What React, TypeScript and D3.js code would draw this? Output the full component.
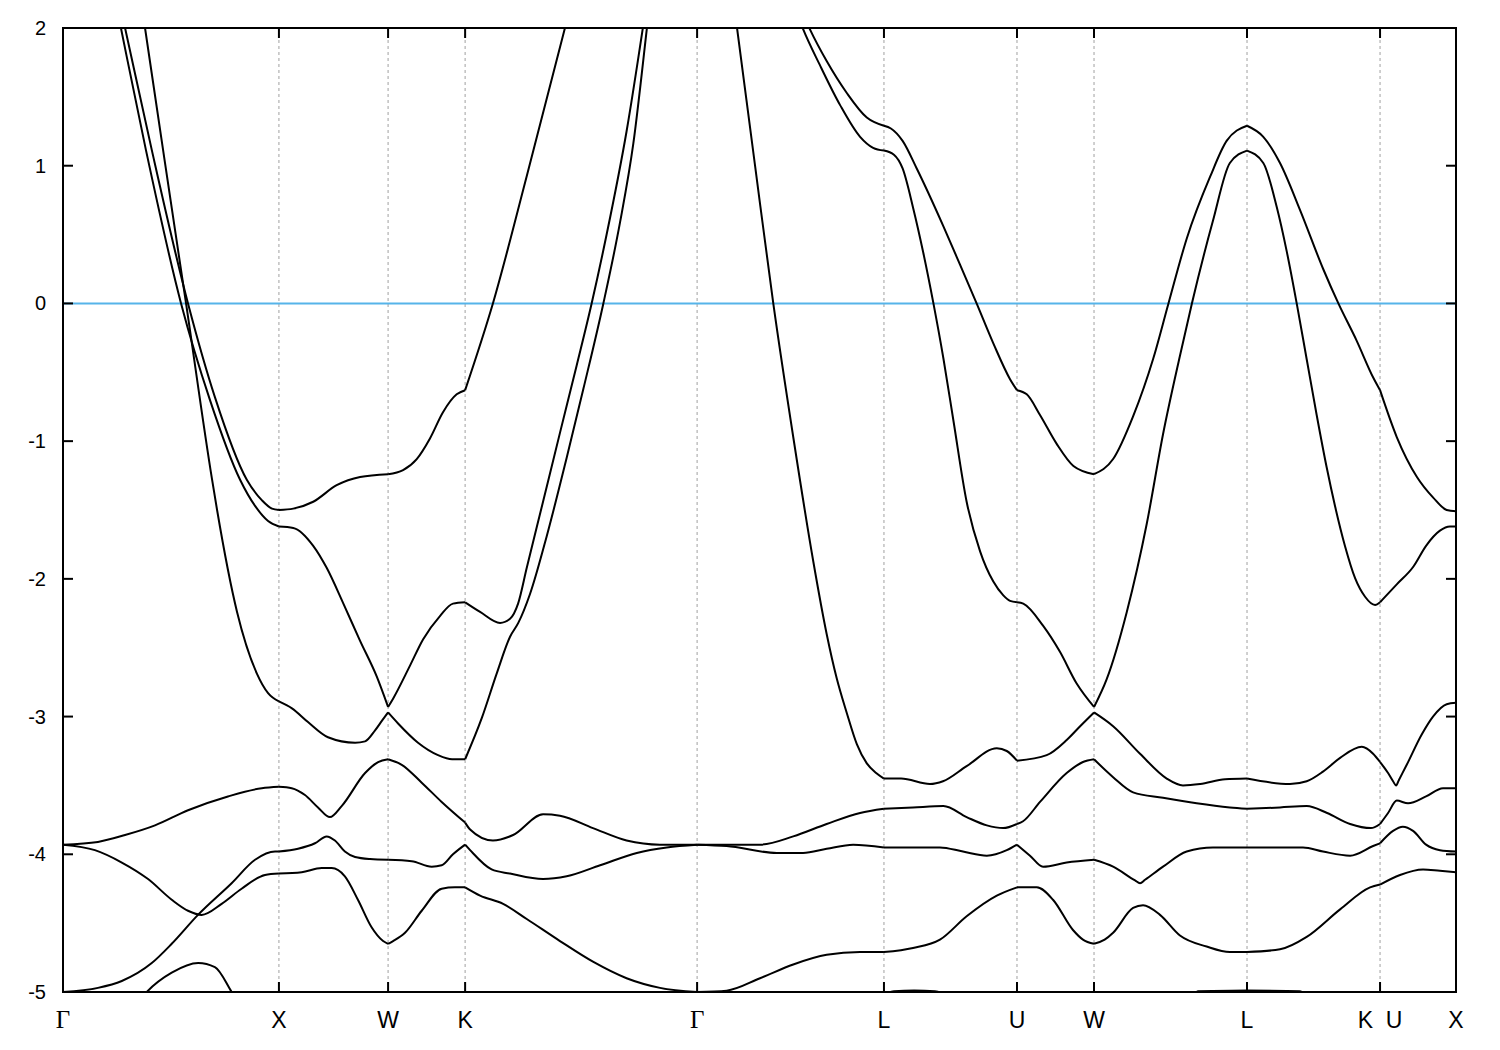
import React, { useMemo } from 'react';
import * as d3 from 'd3';

type Pt = [number, number]; // [path position k, energy in eV]

// High-symmetry points along the k path (same units as the band data)
const kTicks = [0, 0.995, 1.498, 1.853, 2.922, 3.783, 4.396, 4.751, 5.456, 6.069, 6.419];
const kLabels = ['Γ', 'X', 'W', 'K', 'Γ', 'L', 'U', 'W', 'L', 'K\u00a0\u00a0U', 'X'];
const energyTicks = [-5, -4, -3, -2, -1, 0, 1, 2];
const fermiLevel = 0;

// Bands, one array per visible curve
const bandSteep: Pt[] = [
  [0.332, 2.49], [0.378, 2.0], [0.47, 1.02], [0.567, 0.0], [0.687, -1.28], [0.71, -1.5], [0.802, -2.24],
  [0.894, -2.69], [0.945, -2.83], [0.995, -2.89],
  [1.055, -2.94], [1.129, -3.04], [1.221, -3.15], [1.346, -3.19], [1.392, -3.18], [1.438, -3.1], [1.47, -3.03], [1.498, -2.97],
  [1.544, -3.05], [1.636, -3.19], [1.728, -3.28], [1.793, -3.31], [1.853, -3.31],
  [1.93, -3.01], [1.998, -2.69], [2.06, -2.42], [2.098, -2.32], [2.152, -2.11], [2.229, -1.69], [2.321, -1.12],
  [2.398, -0.62], [2.49, 0.0], [2.567, 0.59], [2.628, 1.16], [2.69, 1.99], [2.723, 2.45],
];

const bandPairHigh: Pt[] = [
  [0.23, 2.4], [0.286, 2.0], [0.409, 1.115], [0.576, 0.0], [0.7, -0.68], [0.847, -1.28], [0.917, -1.43], [0.963, -1.49], [0.995, -1.5],
  [1.061, -1.49], [1.153, -1.44], [1.261, -1.32], [1.369, -1.26], [1.498, -1.24],
  [1.567, -1.21], [1.63, -1.13], [1.691, -0.98], [1.751, -0.79], [1.814, -0.66], [1.853, -0.63],
  [1.981, 0.0], [2.138, 0.93], [2.313, 2.0], [2.405, 2.57],
];

const bandPairLow: Pt[] = [
  [0.217, 2.39], [0.267, 2.0], [0.382, 1.115], [0.544, 0.0], [0.677, -0.7], [0.816, -1.28], [0.885, -1.47], [0.945, -1.58], [0.995, -1.62],
  [1.061, -1.63], [1.153, -1.76], [1.215, -1.92], [1.292, -2.18], [1.369, -2.45], [1.446, -2.71], [1.498, -2.93],
  [1.521, -2.87], [1.599, -2.63], [1.659, -2.44], [1.737, -2.27], [1.797, -2.18], [1.853, -2.17],
  [1.922, -2.24], [2.014, -2.32], [2.06, -2.29], [2.097, -2.18], [2.137, -1.92], [2.212, -1.44], [2.29, -0.94],
  [2.367, -0.45], [2.436, 0.0], [2.505, 0.5], [2.597, 1.25], [2.671, 1.99], [2.714, 2.45],
];

const bandDUpper: Pt[] = [
  [0, -3.93], [0.161, -3.91], [0.286, -3.86], [0.424, -3.79], [0.576, -3.68], [0.76, -3.58], [0.916, -3.52], [0.995, -3.51],
  [1.054, -3.52], [1.115, -3.57], [1.175, -3.66], [1.23, -3.73], [1.284, -3.65], [1.392, -3.41], [1.452, -3.33], [1.498, -3.31],
  [1.561, -3.35], [1.653, -3.48], [1.745, -3.62], [1.853, -3.77],
  [1.876, -3.82], [1.981, -3.9], [2.074, -3.86], [2.212, -3.71], [2.29, -3.72], [2.442, -3.81], [2.597, -3.9], [2.751, -3.93], [2.922, -3.93],
  [3.212, -3.93], [3.365, -3.87], [3.519, -3.78], [3.673, -3.7], [3.783, -3.67],
  [3.917, -3.66], [4.057, -3.65], [4.164, -3.73], [4.257, -3.79], [4.332, -3.81], [4.396, -3.78],
  [4.424, -3.76], [4.502, -3.62], [4.625, -3.41], [4.7, -3.33], [4.751, -3.31],
  [4.839, -3.44], [4.931, -3.55], [5.069, -3.59], [5.224, -3.63], [5.377, -3.66], [5.456, -3.67],
  [5.608, -3.66], [5.731, -3.65], [5.825, -3.7], [5.931, -3.78], [6.027, -3.81], [6.069, -3.78],
  [6.106, -3.7], [6.146, -3.61], [6.198, -3.63], [6.281, -3.58], [6.359, -3.52], [6.419, -3.52],
];

const bandDLower: Pt[] = [
  [0, -5.0], [0.161, -4.97], [0.271, -4.92], [0.409, -4.79], [0.501, -4.65], [0.622, -4.44], [0.777, -4.21], [0.885, -4.04], [0.977, -3.98], [0.995, -3.98],
  [1.083, -3.96], [1.161, -3.92], [1.215, -3.87], [1.253, -3.9], [1.299, -3.98], [1.346, -4.02], [1.415, -4.035], [1.498, -4.04],
  [1.607, -4.05], [1.699, -4.09], [1.745, -4.08], [1.797, -4.0], [1.853, -3.93],
  [1.876, -3.97], [1.975, -4.11], [2.06, -4.14], [2.212, -4.18], [2.321, -4.16], [2.475, -4.08], [2.644, -3.99], [2.782, -3.95], [2.922, -3.93],
  [3.058, -3.94], [3.289, -3.99], [3.41, -3.99], [3.519, -3.96], [3.641, -3.93], [3.783, -3.95],
  [4.041, -3.95], [4.147, -3.98], [4.257, -4.01], [4.349, -3.97], [4.396, -3.93],
  [4.456, -4.01], [4.516, -4.09], [4.625, -4.06], [4.751, -4.04],
  [4.839, -4.09], [4.94, -4.19], [4.963, -4.21], [4.986, -4.185], [5.069, -4.09], [5.178, -3.98], [5.299, -3.95], [5.456, -3.95],
  [5.714, -3.95], [5.806, -3.98], [5.931, -4.01], [6.037, -3.94], [6.069, -3.92],
  [6.129, -3.83], [6.174, -3.8], [6.221, -3.83], [6.281, -3.93], [6.345, -3.97], [6.419, -3.98],
];

const bandDBottom: Pt[] = [
  [0, -3.93], [0.147, -3.97], [0.271, -4.06], [0.392, -4.18], [0.501, -4.33], [0.576, -4.41], [0.639, -4.44], [0.731, -4.36],
  [0.823, -4.25], [0.931, -4.15], [0.995, -4.14],
  [1.1, -4.13], [1.192, -4.1], [1.238, -4.1], [1.299, -4.16], [1.359, -4.33], [1.422, -4.53], [1.475, -4.63], [1.498, -4.65],
  [1.521, -4.63], [1.576, -4.57], [1.653, -4.41], [1.745, -4.25], [1.806, -4.24], [1.853, -4.24],
  [1.922, -4.3], [2.028, -4.36], [2.137, -4.47], [2.29, -4.63], [2.442, -4.78], [2.597, -4.9], [2.751, -4.97], [2.922, -5.0],
  [3.058, -4.99], [3.212, -4.9], [3.365, -4.8], [3.519, -4.73], [3.673, -4.71], [3.783, -4.71],
  [3.917, -4.68], [4.041, -4.62], [4.164, -4.45], [4.303, -4.3], [4.396, -4.24],
  [4.487, -4.24], [4.562, -4.33], [4.654, -4.55], [4.7, -4.62], [4.751, -4.65],
  [4.8, -4.62], [4.839, -4.57], [4.931, -4.39], [4.977, -4.37], [5.055, -4.44], [5.147, -4.59], [5.27, -4.67], [5.377, -4.71], [5.456, -4.71],
  [5.608, -4.69], [5.731, -4.6], [5.885, -4.4], [6.023, -4.24], [6.069, -4.22],
  [6.161, -4.15], [6.267, -4.11], [6.345, -4.12], [6.419, -4.13],
];

const bandGammaL: Pt[] = [
  [3.064, 2.5], [3.106, 2.0], [3.189, 1.0], [3.273, 0.0], [3.365, -0.97], [3.457, -1.87], [3.519, -2.4], [3.565, -2.72],
  [3.611, -2.97], [3.658, -3.2], [3.704, -3.34], [3.747, -3.41], [3.783, -3.45],
  [3.862, -3.45], [3.995, -3.49], [4.055, -3.47], [4.164, -3.36], [4.303, -3.23], [4.349, -3.25], [4.396, -3.32],
  [4.533, -3.28], [4.625, -3.17], [4.687, -3.07], [4.751, -2.97],
  [4.839, -3.07], [4.963, -3.27], [5.086, -3.45], [5.161, -3.5], [5.24, -3.49], [5.355, -3.455], [5.456, -3.45],
  [5.654, -3.49], [5.731, -3.47], [5.806, -3.4], [5.885, -3.3], [5.985, -3.22], [6.037, -3.27], [6.069, -3.33],
  [6.106, -3.41], [6.129, -3.47], [6.143, -3.5], [6.156, -3.46], [6.192, -3.35], [6.261, -3.13], [6.313, -3.0], [6.376, -2.91], [6.419, -2.9],
];

const bandLLow: Pt[] = [
  [3.35, 2.25], [3.411, 1.99], [3.488, 1.73], [3.581, 1.44], [3.673, 1.21], [3.733, 1.13], [3.783, 1.11],
  [3.829, 1.08], [3.869, 0.98], [3.918, 0.69], [3.964, 0.37], [4.011, 0.0], [4.057, -0.4], [4.103, -0.85], [4.164, -1.44],
  [4.226, -1.8], [4.287, -2.02], [4.333, -2.12], [4.364, -2.16], [4.396, -2.17],
  [4.425, -2.18], [4.516, -2.34], [4.594, -2.53], [4.671, -2.76], [4.751, -2.93],
  [4.809, -2.73], [4.902, -2.24], [4.994, -1.6], [5.069, -0.95], [5.147, -0.38], [5.202, 0.0], [5.299, 0.6], [5.377, 1.02], [5.456, 1.11],
  [5.531, 1.02], [5.593, 0.7], [5.639, 0.378], [5.685, 0.0], [5.731, -0.405], [5.777, -0.81], [5.823, -1.19], [5.862, -1.475],
  [5.908, -1.765], [5.954, -1.995], [6.0, -2.13], [6.046, -2.19], [6.069, -2.17],
  [6.146, -2.04], [6.223, -1.91], [6.281, -1.76], [6.345, -1.65], [6.391, -1.62], [6.419, -1.62],
];

const bandLHigh: Pt[] = [
  [3.35, 2.33], [3.442, 1.99], [3.519, 1.76], [3.611, 1.53], [3.704, 1.35], [3.783, 1.29],
  [3.815, 1.27], [3.869, 1.18], [3.934, 0.98], [4.057, 0.56], [4.134, 0.28], [4.21, 0.0], [4.287, -0.29], [4.364, -0.55], [4.396, -0.63],
  [4.441, -0.66], [4.502, -0.81], [4.579, -1.02], [4.656, -1.18], [4.751, -1.24],
  [4.839, -1.13], [4.931, -0.82], [5.024, -0.4], [5.094, 0.0], [5.178, 0.47], [5.286, 0.92], [5.362, 1.18], [5.456, 1.29],
  [5.531, 1.21], [5.608, 1.02], [5.7, 0.68], [5.807, 0.25], [5.877, 0.0], [5.961, -0.27], [6.038, -0.54], [6.069, -0.63],
  [6.146, -0.97], [6.239, -1.26], [6.314, -1.41], [6.376, -1.5], [6.419, -1.51],
];

// low-lying bands that just graze the -5 eV edge
const bandBumpGamma: Pt[] = [
  [0.332, -5.1], [0.386, -5.0], [0.501, -4.86], [0.623, -4.79], [0.7, -4.82], [0.777, -5.0], [0.816, -5.1],
];
const bandEdgeL1: Pt[] = [
  [3.7, -5.08], [3.783, -5.02], [3.829, -4.995], [3.922, -4.99], [4.018, -4.995], [4.111, -5.08],
];
const bandEdgeL2: Pt[] = [
  [5.2, -5.05], [5.23, -4.995], [5.456, -4.99], [5.7, -4.995], [5.74, -5.05],
];

const bands: Pt[][] = [
  bandBumpGamma, bandEdgeL1, bandEdgeL2,
  bandDBottom, bandDLower, bandDUpper,
  bandSteep, bandPairLow, bandPairHigh,
  bandGammaL, bandLLow, bandLHigh,
];

const WIDTH = 1500;
const HEIGHT = 1050;
const margin = { top: 28, right: 44, bottom: 58, left: 63 };
const TICK = 10;

// each band is drawn piecewise between high-symmetry points, so kinks there stay sharp
function splitAtTicks(pts: Pt[]): Pt[][] {
  const out: Pt[][] = [];
  for (let i = 0; i < kTicks.length - 1; i++) {
    const lo = kTicks[i] - 1e-6;
    const hi = kTicks[i + 1] + 1e-6;
    const seg = pts.filter(p => p[0] >= lo && p[0] <= hi);
    if (seg.length > 1) out.push(seg);
  }
  return out;
}

const sans = "'Liberation Sans', Arial, Helvetica, sans-serif";
const serif = "'Liberation Serif', 'Times New Roman', serif";

const App: React.FC = () => {
  const x = useMemo(
    () => d3.scaleLinear().domain([kTicks[0], kTicks[kTicks.length - 1]]).range([margin.left, WIDTH - margin.right]),
    []
  );
  const y = useMemo(
    () => d3.scaleLinear().domain([-5, 2]).range([HEIGHT - margin.bottom, margin.top]),
    []
  );

  const paths = useMemo(() => {
    const line = d3.line<Pt>()
      .x(d => x(d[0]))
      .y(d => y(d[1]))
      .curve(d3.curveMonotoneX);
    return bands.flatMap(b => splitAtTicks(b)).map(seg => line(seg) || '');
  }, [x, y]);

  const [x0, x1] = x.range();
  const [yBottom, yTop] = y.range();

  return (
    <svg
      width={WIDTH}
      height={HEIGHT}
      style={{ position: 'absolute', left: 0, top: 0, background: '#fff' }}
    >
      <defs>
        <clipPath id="plotArea">
          <rect x={x0} y={yTop} width={x1 - x0} height={yBottom - yTop} />
        </clipPath>
      </defs>

      {/* vertical grid at the high-symmetry points */}
      {kTicks.slice(1, -1).map((k, i) => (
        <line
          key={`grid-${i}`}
          x1={x(k)} x2={x(k)} y1={yTop} y2={yBottom}
          stroke="#a0a0a0" strokeWidth={1} strokeDasharray="3,3"
        />
      ))}

      {/* Fermi level */}
      <line
        x1={x0} x2={x1} y1={y(fermiLevel)} y2={y(fermiLevel)}
        stroke="#56b4e9" strokeWidth={2}
      />

      <g clipPath="url(#plotArea)">
        {paths.map((d, i) => (
          <path key={`band-${i}`} d={d} fill="none" stroke="#000" strokeWidth={2} strokeLinejoin="round" />
        ))}
      </g>

      {/* frame and ticks */}
      <rect x={x0} y={yTop} width={x1 - x0} height={yBottom - yTop} fill="none" stroke="#000" strokeWidth={2} />
      {energyTicks.map(v => (
        <g key={`yt-${v}`}>
          <line x1={x0} x2={x0 + TICK} y1={y(v)} y2={y(v)} stroke="#000" strokeWidth={2} />
          <line x1={x1 - TICK} x2={x1} y1={y(v)} y2={y(v)} stroke="#000" strokeWidth={2} />
          <text x={46} y={y(v) + 7} textAnchor="end" fontFamily={sans} fontSize={20} fill="#000">
            {String(v)}
          </text>
        </g>
      ))}
      {kTicks.map((k, i) => (
        <g key={`xt-${i}`}>
          <line x1={x(k)} x2={x(k)} y1={yBottom} y2={yBottom - TICK} stroke="#000" strokeWidth={2} />
          <line x1={x(k)} x2={x(k)} y1={yTop} y2={yTop + TICK} stroke="#000" strokeWidth={2} />
          <text
            x={x(k)}
            y={1028}
            textAnchor="middle"
            fontFamily={kLabels[i] === 'Γ' ? serif : sans}
            fontSize={kLabels[i] === 'Γ' ? 25 : 23}
            fill="#000"
          >
            {kLabels[i]}
          </text>
        </g>
      ))}
    </svg>
  );
};

export default App;
